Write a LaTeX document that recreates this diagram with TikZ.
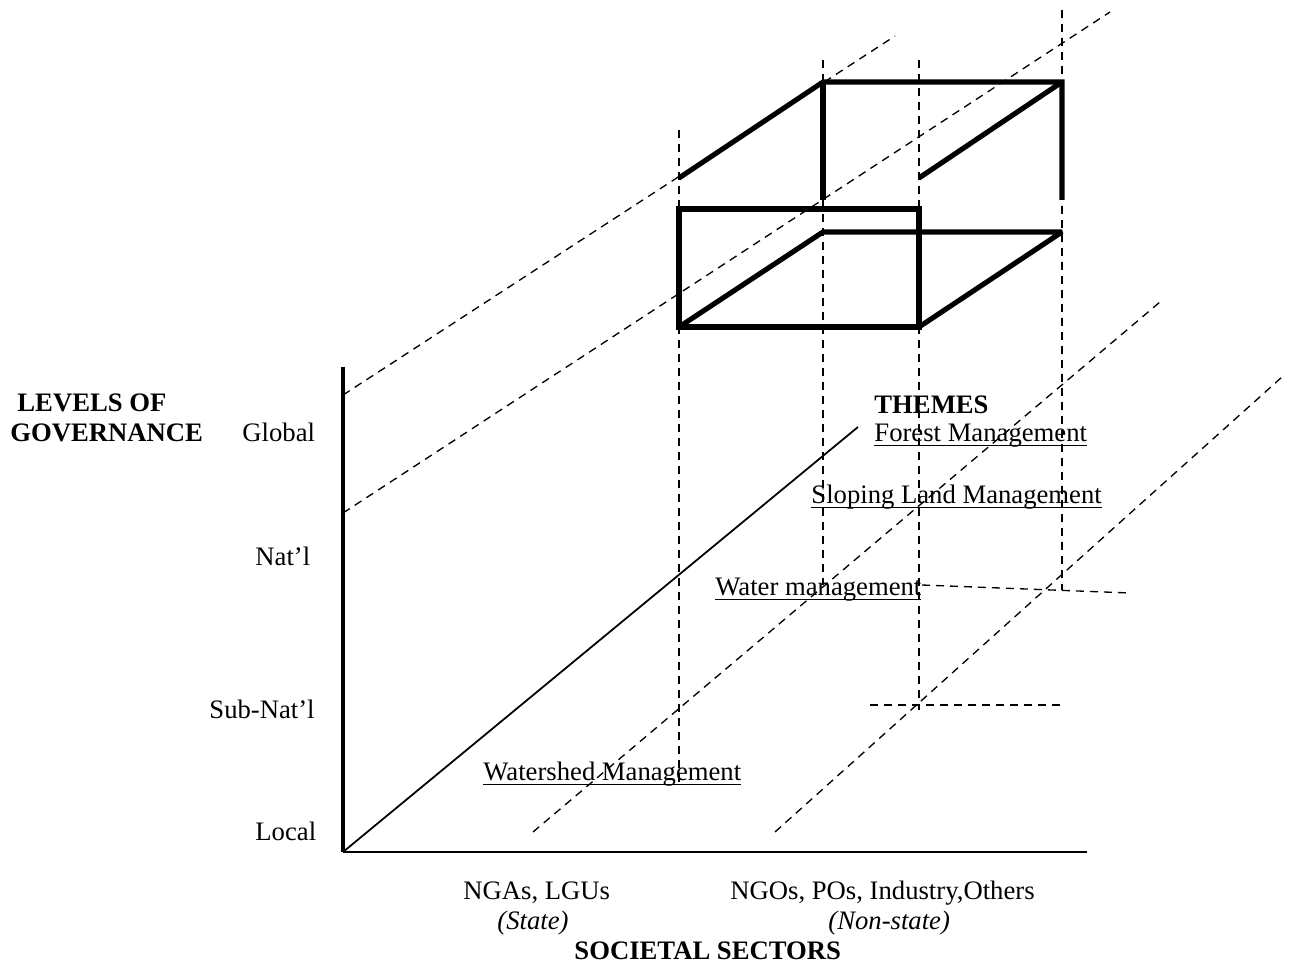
\documentclass[tikz,border=0pt]{standalone}
\usepackage{fontspec}
\setmainfont{Liberation Serif}
\usetikzlibrary{positioning}
\newcommand{\uln}[1]{\underline{\smash{#1}}}
\tikzstyle{lbl} = [inner sep=0pt, anchor=base west, font=\fontsize{12}{14}\selectfont]
\tikzstyle{head} = [lbl, font=\fontsize{12}{14}\selectfont\bfseries]
\tikzstyle{guide} = [dash pattern=on 3.6pt off 2.7pt, line width=0.6pt]
\tikzstyle{frame} = [line width=2.3pt, line join=miter, miter limit=2]
\tikzstyle{axis} = [line width=1.8pt]

\begin{document}
\begin{tikzpicture}[x=0.45pt, y=-0.45pt]
\useasboundingbox (0,0) rectangle (1290,972);
% Axes
	\coordinate (O) at (343,852);
	\coordinate (ytop) at (343,367);
	\coordinate (xend) at (1087,852);
	\coordinate (zend) at (858,427);
	\draw [axis] (ytop) -- (O);
	\draw [line width=1.1pt] (O) -- (xend);
	\draw [line width=0.8pt] (O) -- (zend);
% Dashed guides (diagonal)
	\coordinate (ga1) at (343,395);  \coordinate (gb1) at (895,36);
	\coordinate (ga2) at (343,513);  \coordinate (gb2) at (1110,12);
	\coordinate (ga3) at (533,832);  \coordinate (gb3) at (1160,302);
	\coordinate (ga4) at (775,832);  \coordinate (gb4) at (1282,377);
	\foreach \X in {1,2,3,4} \draw [guide] (ga\X) -- (gb\X);
% Dashed guides (vertical)
	\coordinate (va1) at (679,130);  \coordinate (vb1) at (679,783);
	\coordinate (va2) at (823,60);   \coordinate (vb2) at (823,585);
	\coordinate (va3) at (919,60);   \coordinate (vb3) at (919,710);
	\coordinate (va4) at (1062,10);  \coordinate (vb4) at (1062,590);
	\foreach \X in {1,2,3,4} \draw [guide] (va\X) -- (vb\X);
% Dashed guides (horizontal)
	\coordinate (ha1) at (922,585);  \coordinate (hb1) at (1130,593);
	\coordinate (ha2) at (870,705);  \coordinate (hb2) at (1060,705);
	\foreach \X in {1,2} \draw [guide] (ha\X) -- (hb\X);
% Upper box
	\coordinate (u1) at (679,178);
	\coordinate (u2) at (823,82);
	\coordinate (u3) at (1062,82);
	\coordinate (u4) at (1062,200);
	\coordinate (u5) at (823,200);
	\coordinate (u6) at (919,178);
	\draw [frame] (u1) -- (u2) -- (u3) -- (u4);
	\draw [frame] (u2) -- (u5);
	\draw [frame] (u6) -- (u3);
% Lower box
	\coordinate (l1) at (679,209);
	\coordinate (l2) at (919,327);
	\coordinate (l3) at (679,327);
	\coordinate (l4) at (823,232);
	\coordinate (l5) at (1062,232);
	\draw [frame] (l1) rectangle (l2);
	\draw [frame] (l3) -- (l4) -- (l5) -- (l2);
% Levels of governance
	\node [head] (lev1) at (17,412) {LEVELS OF};
	\node [head] (lev2) at (10,442) {GOVERNANCE};
	\node [lbl] (global) at (242,442) {Global};
	\node [lbl] (natl) at (255,566) {Nat'l};
	\node [lbl] (subnatl) at (209,719) {Sub-Nat'l};
	\node [lbl] (local) at (255,841) {Local};
% Themes
	\node [head] (themes) at (874,414) {THEMES};
	\node [lbl] (forest) at (874,442) {\uln{Forest Management}};
	\node [lbl] (sloping) at (811,504) {\uln{Sloping Land Management}};
	\node [lbl] (water) at (715,596) {\uln{Water management}};
	\node [lbl] (watershed) at (483,781) {\uln{Watershed Management}};
% Societal sectors
	\node [lbl] (state) at (463,900) {NGAs, LGUs};
	\node [lbl] (statei) at (497,929) {\itshape (State)};
	\node [lbl] (nonstate) at (730,900) {NGOs, POs, Industry,Others};
	\node [lbl] (nonstatei) at (828,929) {\itshape (Non-state)};
	\node [head] (sectors) at (574,959) {SOCIETAL SECTORS};
\end{tikzpicture}
\end{document}
